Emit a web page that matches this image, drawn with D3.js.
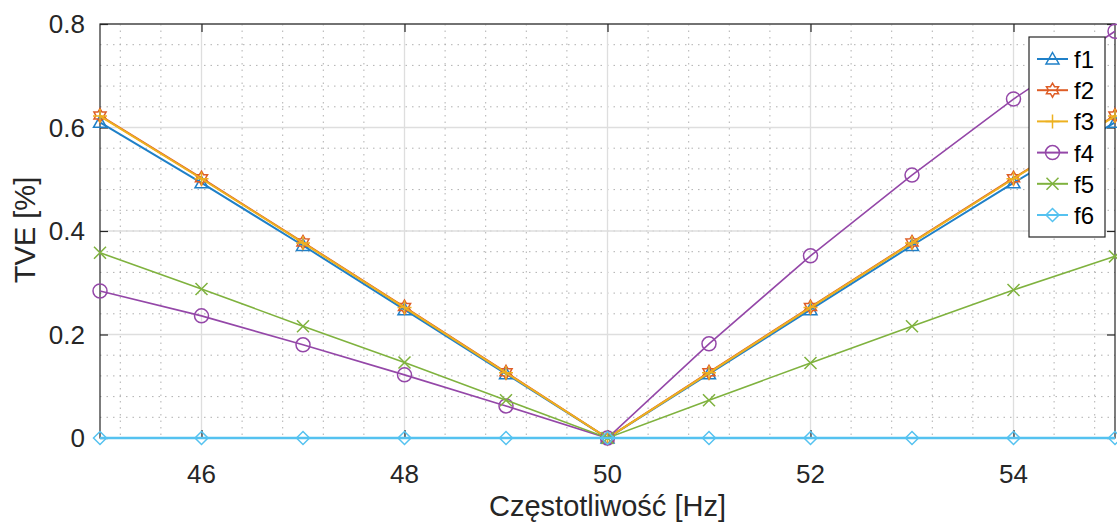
<!DOCTYPE html>
<html>
<head>
<meta charset="utf-8">
<script src="https://cdn.jsdelivr.net/npm/d3@7"></script>
<style>
body { margin: 0; background: #fff; }
</style>
</head>
<body>
<div class="chart"></div>
<script>
var freq = [45, 46, 47, 48, 49, 50, 51, 52, 53, 54, 55]
var f1 = [0.610, 0.493, 0.372, 0.248, 0.124, 0, 0.124, 0.248, 0.372, 0.493, 0.610]
var f2 = [0.623, 0.502, 0.378, 0.253, 0.127, 0, 0.127, 0.253, 0.378, 0.502, 0.623]
var f3 = [0.622, 0.501, 0.377, 0.252, 0.126, 0, 0.126, 0.252, 0.377, 0.501, 0.622]
var f4 = [0.284, 0.236, 0.180, 0.122, 0.062, 0, 0.182, 0.352, 0.508, 0.655, 0.786]
var f5 = [0.358, 0.288, 0.216, 0.146, 0.073, 0, 0.073, 0.145, 0.216, 0.286, 0.351]
var f6 = [0, 0, 0, 0, 0, 0, 0, 0, 0, 0, 0]
var names = ["f1", "f2", "f3", "f4", "f5", "f6"]
var xTicks = [46, 48, 50, 52, 54]
var yTicks = [0, 0.2, 0.4, 0.6, 0.8]

var series = [
  {name: "f1", values: f1, color: "#1f80c8", marker: "tri", w: 2},
  {name: "f2", values: f2, color: "#de5d26", marker: "hex", w: 2},
  {name: "f3", values: f3, color: "#EDB120", marker: "plus", w: 2},
  {name: "f4", values: f4, color: "#9447a8", marker: "circle", w: 1.6},
  {name: "f5", values: f5, color: "#7fb23e", marker: "cross", w: 1.6},
  {name: "f6", values: f6, color: "#55c2f0", marker: "diamond", w: 2.5}
]

var W = 1117, H = 522
var pLeft = 100, pRight = 1115, pTop = 24, pBottom = 438
var font = "'Liberation Sans', Arial, sans-serif"

var svg = d3.select(".chart")
    .append("svg")
    .attr("width", W)
    .attr("height", H)

var x = d3.scaleLinear().domain([45, 55]).range([pLeft, pRight])
var y = d3.scaleLinear().domain([0, 0.8]).range([pBottom, pTop])

// minor grid (dotted)
var g = svg.append("g")
d3.range(45.2, 55, 0.4).forEach(function (v) {
  g.append("line")
    .attr("x1", x(v)).attr("x2", x(v))
    .attr("y1", pTop).attr("y2", pBottom)
    .style("stroke", "#b0b0b0").style("stroke-width", 1)
    .style("stroke-dasharray", "1.5,5")
})
d3.range(0.04, 0.8, 0.04).forEach(function (v) {
  g.append("line")
    .attr("x1", pLeft).attr("x2", pRight)
    .attr("y1", y(v)).attr("y2", y(v))
    .style("stroke", "#b0b0b0").style("stroke-width", 1)
    .style("stroke-dasharray", "1.5,5")
})
// major grid
xTicks.forEach(function (v) {
  g.append("line")
    .attr("x1", x(v)).attr("x2", x(v))
    .attr("y1", pTop).attr("y2", pBottom)
    .style("stroke", "#dedede").style("stroke-width", 1.3)
})
yTicks.forEach(function (v) {
  g.append("line")
    .attr("x1", pLeft).attr("x2", pRight)
    .attr("y1", y(v)).attr("y2", y(v))
    .style("stroke", "#dedede").style("stroke-width", 1.3)
})

// axes box
svg.append("rect")
  .attr("x", pLeft).attr("y", pTop)
  .attr("width", pRight - pLeft).attr("height", pBottom - pTop)
  .style("fill", "none").style("stroke", "#262626").style("stroke-width", 1.2)

// inward ticks
var xAxisB = d3.axisTop(x).tickValues(xTicks).tickSize(8).tickFormat("")
var xAxisT = d3.axisBottom(x).tickValues(xTicks).tickSize(8).tickFormat("")
var yAxisL = d3.axisRight(y).tickValues(yTicks).tickSize(8).tickFormat("")
var yAxisR = d3.axisLeft(y).tickValues(yTicks).tickSize(8).tickFormat("")
;[[xAxisB, "translate(0," + pBottom + ")"], [xAxisT, "translate(0," + pTop + ")"],
 [yAxisL, "translate(" + pLeft + ",0)"], [yAxisR, "translate(" + pRight + ",0)"]].forEach(function (a) {
  var ax = svg.append("g").attr("transform", a[1]).call(a[0])
  ax.select(".domain").remove()
  ax.selectAll("line").style("stroke", "#262626").style("stroke-width", 1.2)
})

// tick labels
xTicks.forEach(function (v) {
  svg.append("text")
    .attr("x", x(v)).attr("y", 483)
    .attr("text-anchor", "middle")
    .text(v)
    .style("font-size", "26px").attr("font-family", font).attr("fill", "#262626")
})
yTicks.forEach(function (v) {
  svg.append("text")
    .attr("x", pLeft - 15).attr("y", y(v) + 9)
    .attr("text-anchor", "end")
    .text(v === 0 ? "0" : v.toFixed(1))
    .style("font-size", "26px").attr("font-family", font).attr("fill", "#262626")
})

svg.append("text")
  .attr("x", (pLeft + pRight) / 2).attr("y", 516)
  .attr("text-anchor", "middle")
  .text("Częstotliwość [Hz]")
  .style("font-size", "29px").attr("font-family", font).attr("fill", "#262626")

svg.append("text")
  .attr("transform", "translate(35,230) rotate(-90)")
  .attr("text-anchor", "middle")
  .text("TVE [%]")
  .style("font-size", "29px").attr("font-family", font).attr("fill", "#262626")

// markers
function hexPath(r) {
  var p = []
  for (var i = 0; i < 12; i++) {
    var a = -Math.PI / 2 + i * Math.PI / 6
    var rr = i % 2 === 0 ? r : r * 0.58
    p.push([rr * Math.cos(a), rr * Math.sin(a)])
  }
  return "M" + p.map(function (d) { return d[0].toFixed(2) + "," + d[1].toFixed(2) }).join("L") + "Z"
}
function markerPath(m) {
  if (m === "tri") return "M0,-6.5L6.5,5L-6.5,5Z"
  if (m === "hex") return hexPath(7)
  if (m === "plus") return "M-7,0L7,0M0,-7L0,7"
  if (m === "circle") return "M7,0A7,7 0 1,1 -7,0A7,7 0 1,1 7,0Z"
  if (m === "cross") return "M-6,-6L6,6M-6,6L6,-6"
  if (m === "diamond") return "M0,-6.5L6.5,0L0,6.5L-6.5,0Z"
}

var line = d3.line()
  .x(function (d, i) { return x(freq[i]) })
  .y(function (d) { return y(d) })

series.forEach(function (s) {
  svg.append("path")
    .datum(s.values)
    .attr("d", line)
    .style("fill", "none")
    .style("stroke", s.color)
    .style("stroke-width", s.w)
  svg.selectAll(".m-" + s.name)
    .data(s.values)
    .enter()
    .append("path")
    .attr("transform", function (d, i) { return "translate(" + x(freq[i]) + "," + y(d) + ")" })
    .attr("d", markerPath(s.marker))
    .style("fill", "none")
    .style("stroke", s.color)
    .style("stroke-width", 1.5)
})

// legend
var lg = svg.append("g").attr("transform", "translate(1029,37)")
lg.append("rect")
  .attr("width", 76).attr("height", 200)
  .style("fill", "#fff").style("stroke", "#262626").style("stroke-width", 1.2)
series.forEach(function (s, i) {
  var ly = 22 + i * 31.2
  lg.append("line")
    .attr("x1", 8).attr("x2", 39).attr("y1", ly).attr("y2", ly)
    .style("stroke", s.color).style("stroke-width", 2)
  lg.append("path")
    .attr("transform", "translate(23.5," + ly + ")")
    .attr("d", markerPath(s.marker))
    .style("fill", "none").style("stroke", s.color).style("stroke-width", 1.5)
  lg.append("text")
    .attr("x", 45).attr("y", ly + 9)
    .text(names[i])
    .style("font-size", "24px").attr("font-family", font).attr("fill", "#000")
})
</script>
</body>
</html>
